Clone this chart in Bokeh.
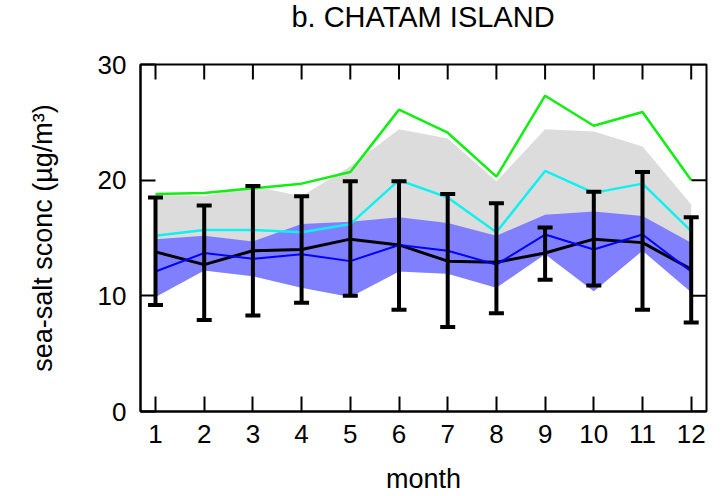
from bokeh.plotting import figure
from bokeh.layouts import column
from bokeh.models import Range1d, FixedTicker, Whisker, TeeHead, ColumnDataSource, Div
from bokeh.embed import file_html
from bokeh.resources import INLINE

months = [1, 2, 3, 4, 5, 6, 7, 8, 9, 10, 11, 12]
green_line = [18.8, 18.9, 19.3, 19.7, 20.7, 26.1, 24.1, 20.3, 27.3, 24.7, 25.9, 20.0]
grey_upper = [18.7, 18.6, 19.5, 18.6, 21.2, 24.4, 23.6, 19.9, 24.4, 24.2, 22.9, 17.9]
grey_lower = [9.9, 12.2, 11.7, 10.7, 9.9, 12.1, 11.9, 10.7, 13.6, 10.4, 13.9, 10.3]
blue_upper = [14.9, 15.2, 14.7, 16.2, 16.4, 16.8, 16.3, 15.2, 17.0, 17.3, 16.9, 14.6]
blue_lower = [9.9, 12.2, 11.7, 10.7, 9.9, 12.1, 11.9, 10.7, 13.6, 10.4, 13.9, 10.3]
cyan_line = [15.2, 15.7, 15.7, 15.5, 16.2, 20.0, 18.5, 15.5, 20.8, 18.9, 19.7, 15.6]
obs_mean = [13.8, 12.7, 13.9, 14.0, 14.9, 14.4, 13.0, 12.9, 13.7, 14.9, 14.6, 12.3]
obs_upper = [18.5, 17.8, 19.5, 18.6, 19.9, 19.9, 18.8, 18.0, 15.9, 19.0, 20.7, 16.8]
obs_lower = [9.2, 7.9, 8.3, 9.4, 10.0, 8.8, 7.3, 8.5, 11.4, 10.9, 8.8, 7.7]
model_line = [12.1, 13.7, 13.2, 13.6, 13.0, 14.4, 13.9, 12.7, 15.3, 14.0, 15.3, 12.1]
y_ticks = [0, 10, 20, 30]
x_start, x_end = 0.692, 12.314
y_start, y_end = 0.0, 30.0
title_text = "b. CHATAM ISLAND"

FONT = "Liberation Sans"
W, H = 716, 462
B_LEFT, B_RIGHT, B_TOP, B_BOTTOM = 140, 10, 30, 83
TITLE_H = 34
TICK = 15  # inward tick length in px

p = figure(width=W, height=H, output_backend="svg", toolbar_location=None,
           x_range=Range1d(x_start, x_end), y_range=Range1d(y_start, y_end),
           min_border_left=B_LEFT, min_border_right=B_RIGHT,
           min_border_top=B_TOP, min_border_bottom=B_BOTTOM)
p.grid.visible = False
p.outline_line_color = "black"
p.outline_line_width = 2
p.background_fill_color = "white"
p.border_fill_color = "white"

src = ColumnDataSource(dict(x=months, gu=grey_upper, gl=grey_lower, bu=blue_upper, bl=blue_lower,
                            g=green_line, c=cyan_line, m=obs_mean, ou=obs_upper, ol=obs_lower, b=model_line))

p.varea(x="x", y1="gl", y2="gu", source=src, fill_color="#dcdcdc")
p.varea(x="x", y1="bl", y2="bu", source=src, fill_color="#8080ff")
p.line(x="x", y="g", source=src, line_color="#11ee11", line_width=2.5)
p.line(x="x", y="c", source=src, line_color="#11f0f0", line_width=2.5)
p.line(x="x", y="m", source=src, line_color="black", line_width=3)
p.line(x="x", y="b", source=src, line_color="#0000ff", line_width=2)

w = Whisker(base="x", upper="ou", lower="ol", source=src, line_width=4, line_color="black",
            upper_head=TeeHead(size=15, line_width=4, line_color="black"),
            lower_head=TeeHead(size=15, line_width=4, line_color="black"),
            level="annotation")
p.add_layout(w)

# mirrored inward ticks on the top and right edges
frame_w = W - B_LEFT - B_RIGHT
frame_h = H - B_TOP - B_BOTTOM
dy = TICK * (y_end - y_start) / frame_h
dx = TICK * (x_end - x_start) / frame_w
eps_y = 0.5 * (y_end - y_start) / frame_h
eps_x = 0.5 * (x_end - x_start) / frame_w
top_src = ColumnDataSource(dict(x0=[float(m) for m in months],
                                y0=[y_end - eps_y] * len(months),
                                x1=[float(m) for m in months],
                                y1=[y_end - dy] * len(months)))
right_src = ColumnDataSource(dict(x0=[x_end - eps_x] * len(y_ticks),
                                  y0=[float(v) for v in y_ticks],
                                  x1=[x_end - dx] * len(y_ticks),
                                  y1=[float(v) for v in y_ticks]))
p.segment(x0="x0", y0="y0", x1="x1", y1="y1", source=top_src, line_color="black", line_width=2)
p.segment(x0="x0", y0="y0", x1="x1", y1="y1", source=right_src, line_color="black", line_width=2)

for ax in (p.xaxis[0], p.yaxis[0]):
    ax.axis_line_color = "black"
    ax.axis_line_width = 2
    ax.major_tick_in = TICK
    ax.major_tick_out = 0
    ax.major_tick_line_width = 2
    ax.major_tick_line_color = "black"
    ax.minor_tick_line_color = None
    ax.major_label_text_font = FONT
    ax.major_label_text_font_size = "26px"
    ax.major_label_text_color = "black"
    ax.axis_label_text_font = FONT
    ax.axis_label_text_font_style = "normal"
    ax.axis_label_text_color = "black"

xa = p.xaxis[0]
ya = p.yaxis[0]
xa.ticker = FixedTicker(ticks=months)
ya.ticker = FixedTicker(ticks=y_ticks)
xa.major_label_standoff = 13
ya.major_label_standoff = 14
xa.axis_label = "month"
ya.axis_label = "sea-salt sconc (µg/m³)"
xa.axis_label_text_font_size = "27px"
ya.axis_label_text_font_size = "27px"
xa.axis_label_standoff = 18
ya.axis_label_standoff = 37

title = Div(text=title_text, width=frame_w, height=TITLE_H, margin=(0, B_RIGHT, 0, B_LEFT),
            styles={"font-family": FONT, "font-size": "29px", "color": "black",
                    "text-align": "center", "line-height": f"{TITLE_H}px", "width": f"{frame_w}px"})

layout = column(title, p, spacing=0)
open("out.html", "w").write(file_html(layout, INLINE))
